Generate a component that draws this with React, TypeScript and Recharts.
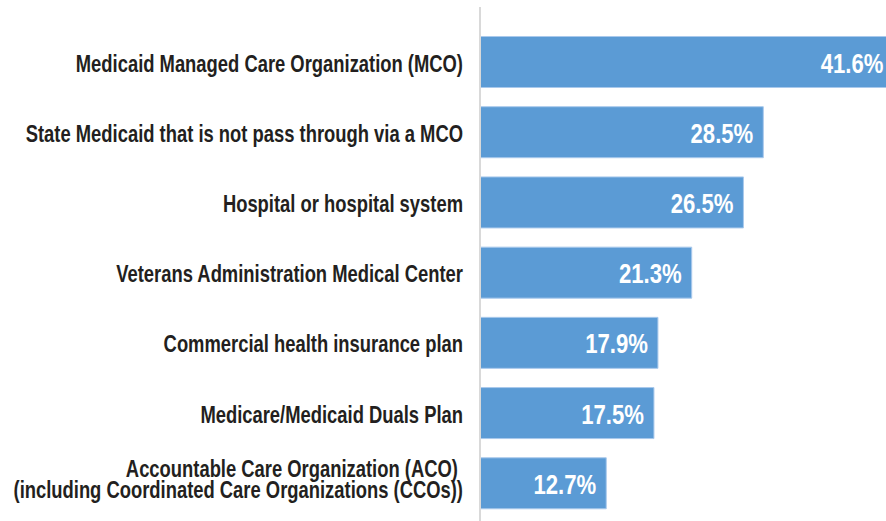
import { Bar, BarChart, LabelList, XAxis, YAxis } from 'recharts';

// Share of respondents by partner type.
const categories = [
  'Medicaid Managed Care Organization (MCO)',
  'State Medicaid that is not pass through via a MCO',
  'Hospital or hospital system',
  'Veterans Administration Medical Center',
  'Commercial health insurance plan',
  'Medicare/Medicaid Duals Plan',
  'Accountable Care Organization (ACO) \n(including Coordinated Care Organizations (CCOs))',
];
const shares = [41.6, 28.5, 26.5, 21.3, 17.9, 17.5, 12.7];

const data = categories.map((category, i) => ({ category, share: shares[i] }));

// no Arial Narrow here, so squeeze Liberation Sans horizontally
const FONT = "'Liberation Sans', Arial, sans-serif";

function CategoryTick(props: any) {
  const { x, y, payload } = props;
  const lines = String(payload.value).split('\n');
  const lineGap = 21;
  const startY = y + 10 - (lines.length - 1) * 16;
  return (
    <g transform={`translate(${x},${startY}) scale(0.8,1)`}>
      <text x={0} y={0} textAnchor="end" fill="#231f20" fontFamily={FONT} fontWeight="bold" fontSize={23}>
        {lines.map((line, i) => (
          <tspan key={i} x={0} dy={i === 0 ? 0 : lineGap}>
            {line}
          </tspan>
        ))}
      </text>
    </g>
  );
}

function ValueLabel(props: any) {
  const { x, y, width, height, value } = props;
  const right = x + width - 10;
  const base = y + height / 2 + 10.5;
  return (
    <g transform={`translate(${right},${base}) scale(0.82,1)`}>
      <text x={0} y={0} textAnchor="end" fill="#ffffff" fontFamily={FONT} fontWeight="bold" fontSize={27}>
        {`${value}%`}
      </text>
    </g>
  );
}

export default function App() {
  return (
    <div
      style={{
        position: 'fixed',
        left: 0,
        top: 0,
        width: 886,
        height: 521,
        overflow: 'hidden',
        background: '#ffffff',
      }}
    >
      <BarChart
        width={977}
        height={521}
        data={data}
        layout="vertical"
        margin={{ top: 7, right: 0, bottom: 0, left: 0 }}
      >
        <XAxis type="number" domain={[0, 50]} hide />
        <YAxis
          type="category"
          dataKey="category"
          width={480}
          axisLine={{ stroke: '#d9d9d9', strokeWidth: 2 }}
          tickLine={false}
          tickSize={0}
          tickMargin={17}
          padding={{ top: 19.5, bottom: 3 }}
          tick={<CategoryTick />}
          interval={0}
        />
        <Bar
          dataKey="share"
          fill="#5b9bd5"
          stroke="#a9c9ec"
          strokeWidth={1}
          barSize={51}
          isAnimationActive={false}
        >
          <LabelList dataKey="share" content={<ValueLabel />} />
        </Bar>
      </BarChart>
    </div>
  );
}
